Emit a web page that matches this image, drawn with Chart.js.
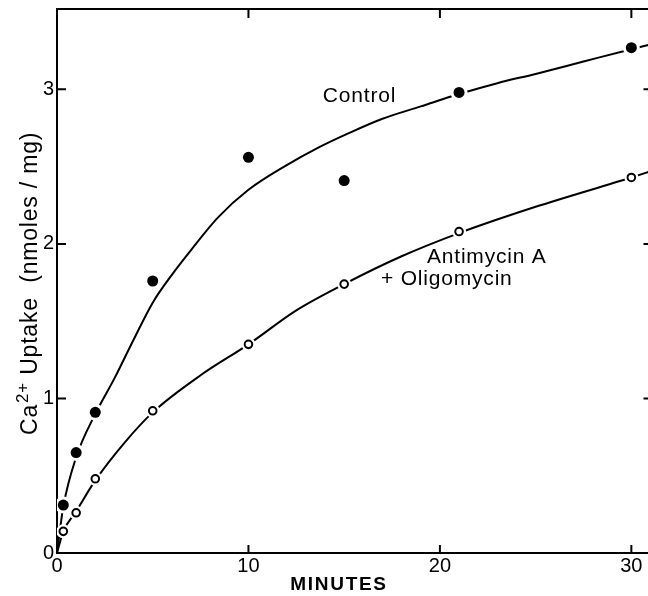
<!DOCTYPE html>
<html>
<head>
<meta charset="utf-8">
<script src="https://cdn.jsdelivr.net/npm/chart.js@4.4.1/dist/chart.umd.min.js"></script>
<style>
  html, body { margin: 0; padding: 0; background: #fff; overflow: hidden; }
  canvas { display: block; }
</style>
</head>
<body>
<canvas id="myChart" width="659" height="596"></canvas>
<script>
// measured points
const minutes = [0.33, 1, 2, 5, 10, 15, 21, 30]
const controlUptake = [0.31, 0.65, 0.91, 1.76, 2.56, 2.41, 2.98, 3.27]
const antimycinUptake = [0.14, 0.26, 0.48, 0.92, 1.35, 1.74, 2.08, 2.43]

// fitted curves as drawn in the figure
const controlCurveX = [0, 0.33, 1, 2, 3, 4, 5, 6, 7, 8.4, 10, 12, 13.6, 15.3, 17, 19, 21, 23, 25, 27.5, 30, 31]
const controlCurveY = [0, 0.3, 0.62, 0.9, 1.13, 1.38, 1.62, 1.8, 1.96, 2.17, 2.35, 2.51, 2.62, 2.72, 2.81, 2.89, 2.97, 3.04, 3.1, 3.18, 3.26, 3.29]
const antimycinCurveX = [0, 0.33, 1, 2, 3.5, 5, 7.5, 10, 12.5, 15, 18, 21, 25, 30, 31]
const antimycinCurveY = [0, 0.14, 0.27, 0.47, 0.71, 0.91, 1.15, 1.35, 1.57, 1.74, 1.92, 2.07, 2.24, 2.43, 2.47]

const xTicks = [0, 10, 20, 30]
const yTicks = [0, 1, 2, 3]

const labels = [
    { text: 'Control', x: 15.8, y: 2.955 },
    { text: 'Antimycin A', x: 22.45, y: 1.916 },
    { text: '+ Oligomycin', x: 20.36, y: 1.77 }
]

const pts = (xs, ys) => xs.map((x, i) => ({ x: x, y: ys[i] }))
const FONT = '"Liberation Sans", Arial, Helvetica, sans-serif'

const frame = {
    id: 'frame',
    afterDraw(chart) {
        const c = chart.ctx, a = chart.chartArea
        const sx = chart.scales.x, sy = chart.scales.y
        c.save()
        c.strokeStyle = '#000'
        c.lineWidth = 2
        c.beginPath()
        c.moveTo(a.left - 1, a.top)
        c.lineTo(a.right + 2, a.top)
        c.moveTo(a.right, a.top)
        c.lineTo(a.right, a.bottom)
        xTicks.forEach(v => {
            if (v === 0) return
            const px = sx.getPixelForValue(v)
            c.moveTo(px, a.bottom)
            c.lineTo(px, a.bottom - 8)
            c.moveTo(px, a.top)
            c.lineTo(px, a.top + 9)
        })
        yTicks.forEach(v => {
            if (v === 0) return
            const py = sy.getPixelForValue(v)
            c.moveTo(a.left, py)
            c.lineTo(a.left + 9, py)
            c.moveTo(a.right, py)
            c.lineTo(a.right - 7, py)
        })
        c.stroke()

        c.fillStyle = '#000'
        c.textAlign = 'center'
        c.textBaseline = 'middle'
        c.letterSpacing = '0.8px'
        c.font = '21px ' + FONT
        labels.forEach(l => {
            c.fillText(l.text, sx.getPixelForValue(l.x), sy.getPixelForValue(l.y))
        })
        c.letterSpacing = '1.7px'
        c.font = 'bold 19px ' + FONT
        c.fillText('MINUTES', 339, 585)

        // y axis title with superscript, rotated
        c.translate(37, 435)
        c.rotate(-Math.PI / 2)
        c.textAlign = 'left'
        c.textBaseline = 'alphabetic'
        c.letterSpacing = '0.8px'
        c.font = '23px ' + FONT
        let pos = 0
        c.fillText('Ca', pos, 0)
        pos += c.measureText('Ca').width + 1
        c.font = '17px ' + FONT
        c.fillText('2+', pos, -9)
        pos += c.measureText('2+').width
        c.font = '23px ' + FONT
        c.fillText(' Uptake  (nmoles / mg)', pos, 0)
        c.restore()
    }
}

let ctx = document.getElementById('myChart')
let myChart = new Chart(ctx, {
    type: 'scatter',
    data: {
        datasets: [
            {
                label: 'Control',
                data: pts(minutes, controlUptake),
                pointRadius: 5.5,
                pointBackgroundColor: '#000',
                pointBorderWidth: 0,
                showLine: false,
                order: 0
            },
            {
                label: 'Antimycin A + Oligomycin',
                data: pts(minutes, antimycinUptake),
                pointRadius: 3.8,
                pointBackgroundColor: '#fff',
                pointBorderColor: '#000',
                pointBorderWidth: 2,
                showLine: false,
                order: 0
            },
            {
                label: 'gap control',
                data: pts(minutes, controlUptake),
                pointRadius: 8.5,
                pointBackgroundColor: '#fff',
                pointBorderWidth: 0,
                showLine: false,
                order: 1
            },
            {
                label: 'gap antimycin',
                data: pts(minutes, antimycinUptake),
                pointRadius: 7,
                pointBackgroundColor: '#fff',
                pointBorderWidth: 0,
                showLine: false,
                order: 1
            },
            {
                label: 'Control fit',
                data: pts(controlCurveX, controlCurveY),
                showLine: true,
                borderColor: '#000',
                borderWidth: 2,
                pointRadius: 0,
                cubicInterpolationMode: 'monotone',
                order: 2
            },
            {
                label: 'Antimycin fit',
                data: pts(antimycinCurveX, antimycinCurveY),
                showLine: true,
                borderColor: '#000',
                borderWidth: 2,
                pointRadius: 0,
                cubicInterpolationMode: 'monotone',
                order: 2
            }
        ]
    },
    options: {
        responsive: false,
        animation: false,
        layout: { padding: { top: 9, right: 2, left: 0, bottom: 0 } },
        plugins: {
            legend: { display: false },
            tooltip: { enabled: false }
        },
        scales: {
            x: {
                type: 'linear',
                min: 0,
                max: 31,
                grid: { display: false, drawTicks: false },
                border: { display: true, color: '#000', width: 2 },
                afterBuildTicks: s => { s.ticks = xTicks.map(v => ({ value: v })) },
                afterFit: s => { s.height = 43; s.paddingLeft = 0; s.paddingRight = 0 },
                ticks: {
                    color: '#000',
                    padding: 1,
                    maxRotation: 0,
                    font: { family: FONT, size: 20 }
                }
            },
            y: {
                type: 'linear',
                min: 0,
                max: 3.52,
                grid: { display: false, drawTicks: false },
                border: { display: true, color: '#000', width: 2 },
                afterBuildTicks: s => { s.ticks = yTicks.map(v => ({ value: v })) },
                afterFit: s => { s.width = 57; s.paddingTop = 0; s.paddingBottom = 0 },
                ticks: {
                    color: '#000',
                    padding: 3,
                    font: { family: FONT, size: 20 }
                }
            }
        }
    },
    plugins: [frame]
})
</script>
</body>
</html>
